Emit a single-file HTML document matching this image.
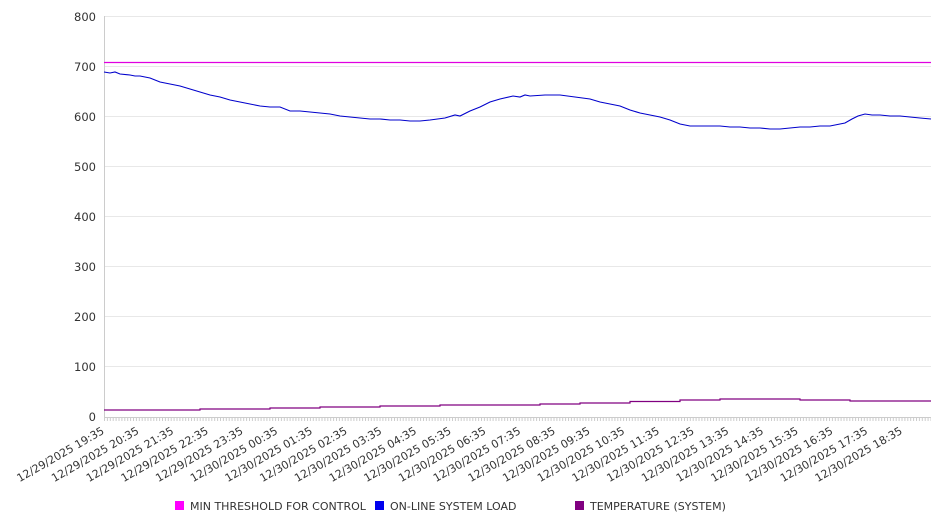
<!DOCTYPE html><html><head><style>body{margin:0;background:#fff}svg{display:block}text{font-family:"DejaVu Sans","Liberation Sans",sans-serif;fill:#333}</style></head><body>
<svg width="946" height="526" viewBox="0 0 946 526">
<defs><pattern id="tk" x="104" y="0" width="2.9" height="10" patternUnits="userSpaceOnUse"><rect x="0" y="0" width="1" height="10" fill="#ccc"/></pattern></defs>
<g stroke="#e8e8e8" stroke-width="1">
<line x1="104" x2="931" y1="16.5" y2="16.5"/><line x1="104" x2="931" y1="66.5" y2="66.5"/><line x1="104" x2="931" y1="116.5" y2="116.5"/><line x1="104" x2="931" y1="166.5" y2="166.5"/><line x1="104" x2="931" y1="216.5" y2="216.5"/><line x1="104" x2="931" y1="266.5" y2="266.5"/><line x1="104" x2="931" y1="316.5" y2="316.5"/><line x1="104" x2="931" y1="366.5" y2="366.5"/>
</g>
<line x1="104.5" x2="104.5" y1="16" y2="417" stroke="#ccc"/>
<line x1="104" x2="931" y1="417.5" y2="417.5" stroke="#ccc"/>
<rect x="104" y="417" width="827" height="4" fill="url(#tk)"/>
<g font-size="11.5" text-anchor="end">
<text x="96" y="21">800</text><text x="96" y="71">700</text><text x="96" y="121">600</text><text x="96" y="171">500</text><text x="96" y="221">400</text><text x="96" y="271">300</text><text x="96" y="321">200</text><text x="96" y="371">100</text><text x="96" y="421">0</text>
</g>
<g font-size="11" text-anchor="end">
<text x="105" y="433" transform="rotate(-30 105 433)">12/29/2025 19:35</text>
<text x="139.7" y="433" transform="rotate(-30 139.7 433)">12/29/2025 20:35</text>
<text x="174.4" y="433" transform="rotate(-30 174.4 433)">12/29/2025 21:35</text>
<text x="209.1" y="433" transform="rotate(-30 209.1 433)">12/29/2025 22:35</text>
<text x="243.8" y="433" transform="rotate(-30 243.8 433)">12/29/2025 23:35</text>
<text x="278.5" y="433" transform="rotate(-30 278.5 433)">12/30/2025 00:35</text>
<text x="313.2" y="433" transform="rotate(-30 313.2 433)">12/30/2025 01:35</text>
<text x="347.9" y="433" transform="rotate(-30 347.9 433)">12/30/2025 02:35</text>
<text x="382.6" y="433" transform="rotate(-30 382.6 433)">12/30/2025 03:35</text>
<text x="417.3" y="433" transform="rotate(-30 417.3 433)">12/30/2025 04:35</text>
<text x="452" y="433" transform="rotate(-30 452 433)">12/30/2025 05:35</text>
<text x="486.7" y="433" transform="rotate(-30 486.7 433)">12/30/2025 06:35</text>
<text x="521.4" y="433" transform="rotate(-30 521.4 433)">12/30/2025 07:35</text>
<text x="556.1" y="433" transform="rotate(-30 556.1 433)">12/30/2025 08:35</text>
<text x="590.8" y="433" transform="rotate(-30 590.8 433)">12/30/2025 09:35</text>
<text x="625.5" y="433" transform="rotate(-30 625.5 433)">12/30/2025 10:35</text>
<text x="660.2" y="433" transform="rotate(-30 660.2 433)">12/30/2025 11:35</text>
<text x="694.9" y="433" transform="rotate(-30 694.9 433)">12/30/2025 12:35</text>
<text x="729.6" y="433" transform="rotate(-30 729.6 433)">12/30/2025 13:35</text>
<text x="764.3" y="433" transform="rotate(-30 764.3 433)">12/30/2025 14:35</text>
<text x="799" y="433" transform="rotate(-30 799 433)">12/30/2025 15:35</text>
<text x="833.7" y="433" transform="rotate(-30 833.7 433)">12/30/2025 16:35</text>
<text x="868.4" y="433" transform="rotate(-30 868.4 433)">12/30/2025 17:35</text>
<text x="903.1" y="433" transform="rotate(-30 903.1 433)">12/30/2025 18:35</text>
</g>
<line x1="104" x2="931" y1="62.5" y2="62.5" stroke="#e000e0" stroke-width="1.2"/>
<polyline fill="none" stroke="#0000cc" stroke-width="1.1" points="104,72 110,73 115,72 120,74 130,75 135,76 140,76 150,78 160,82 170,84 180,86 190,89 200,92 210,95 220,97 230,100 240,102 250,104 260,106 270,107 280,107 290,111 300,111 310,112 320,113 330,114 340,116 350,117 360,118 370,119 380,119 390,120 400,120 410,121 420,121 430,120 445,118 455,115 460,116 470,111 480,107 490,102 500,99 513,96 520,97 525,95 530,96 545,95 560,95 575,97 590,99 600,102 610,104 620,106 630,110 640,113 650,115 660,117 670,120 680,124 690,126 700,126 710,126 720,126 730,127 740,127 750,128 760,128 770,129 780,129 790,128 800,127 810,127 820,126 830,126 845,123 852,119 858,116 865,114 872,115 880,115 890,116 900,116 910,117 920,118 931,119"/>
<polyline fill="none" stroke="#800080" stroke-width="1.2" points="104,410 200,410 200,409 270,409 270,408 320,408 320,407 380,407 380,406 440,406 440,405 540,405 540,404 580,404 580,403 630,403 630,401.5 680,401.5 680,400 720,400 720,399 800,399 800,400 850,400 850,401 931,401"/>
<g font-size="11">
<rect x="175" y="501" width="9" height="9" fill="#ff00ff"/><text x="190" y="510">MIN THRESHOLD FOR CONTROL</text>
<rect x="375" y="501" width="9" height="9" fill="#0000ee"/><text x="390" y="510">ON-LINE SYSTEM LOAD</text>
<rect x="575" y="501" width="9" height="9" fill="#800080"/><text x="590" y="510">TEMPERATURE (SYSTEM)</text>
</g>
</svg></body></html>
